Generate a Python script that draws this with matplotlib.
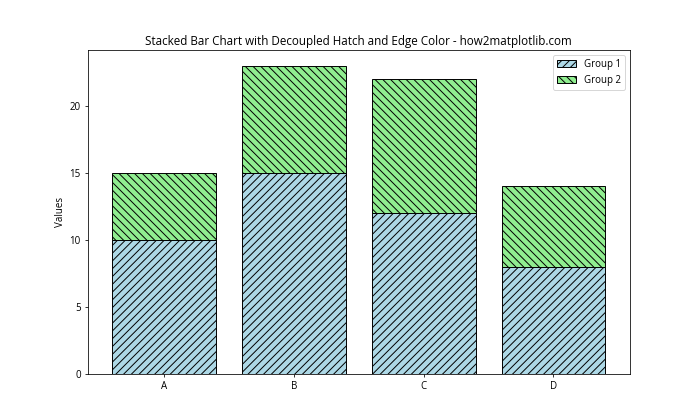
import matplotlib
matplotlib.use("Agg")
import matplotlib.pyplot as plt

plt.rcParams['font.family'] = ['Open Sans', 'DejaVu Sans']

categories = ['A', 'B', 'C', 'D']
group1 = [10, 15, 12, 8]
group2 = [5, 8, 10, 6]

fig, ax = plt.subplots(figsize=(10, 6), dpi=70)

ax.bar(categories, group1, color='lightblue', edgecolor='black', hatch='///', label='Group 1')
ax.bar(categories, group2, bottom=group1, color='lightgreen', edgecolor='black', hatch='\\\\\\', label='Group 2')

ax.set_ylabel('Values')
ax.set_title('Stacked Bar Chart with Decoupled Hatch and Edge Color - how2matplotlib.com')
ax.legend()

fig.savefig('out.png', dpi=70)
